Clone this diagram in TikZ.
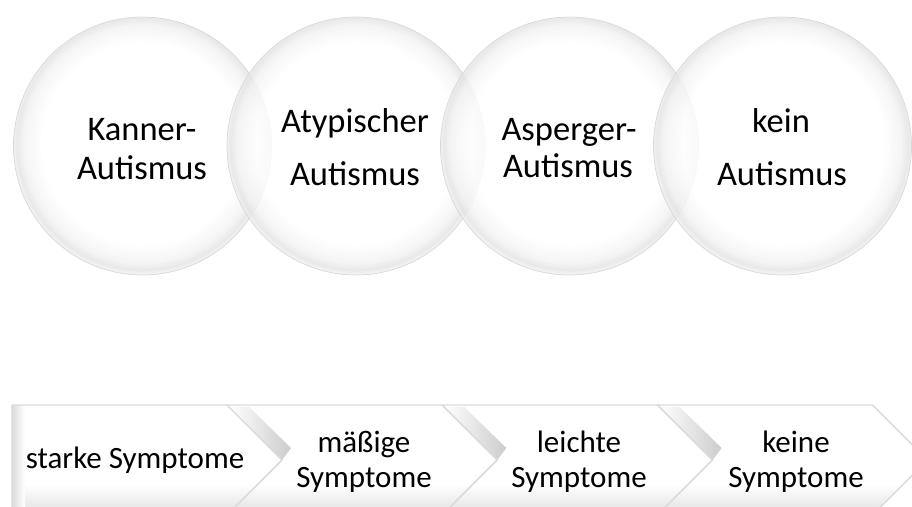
\documentclass[tikz,border=0pt]{standalone}
\usepackage{fontspec}
\setmainfont{Carlito}
\pgfdeclareradialshading{glassball}{\pgfpoint{0bp}{0.8bp}}{%
  color(0bp)=(white); color(19.5bp)=(white); color(23bp)=(black!5);
  color(24.4bp)=(black!11); color(25bp)=(black!7); color(50bp)=(black!7)}
\begin{document}
\begin{tikzpicture}[x=1pt,y=-1pt,
  glass/.style={shading=glassball, fill opacity=0.8},
  glassrim/.style={draw=black!18, line width=0.7pt, draw opacity=0.8},
  ctext/.style={font=\fontsize{34.5}{40}\selectfont, anchor=base, inner sep=0pt},
  stext/.style={font=\fontsize{31}{35}\selectfont, anchor=base, inner sep=0pt},
  chevline/.style={draw=black!14, line width=1.4pt, line join=miter},
  bottomband/.style={top color=white, bottom color=black!12},
  notchbevel/.style={left color=white, right color=black!20}]
\useasboundingbox (0,0) rectangle (912,506);
\clip (0,0) rectangle (912,506);

% glass circles, each one laid over the previous
\foreach \cx in {142.5,356,569.5,782.5}{
  \shade[glass] (\cx,146) circle[radius=129];
  \draw[glassrim] (\cx,146) circle[radius=129];
}

\node[ctext] (k1) at (142,140) {Kanner-};
\node[ctext] (k2) at (142,179) {Autismus};
\node[ctext] (a1) at (355,132) {Atypischer};
\node[ctext] (a2) at (355,185) {Autismus};
\node[ctext] (p1) at (569,140) {Asperger-};
\node[ctext] (p2) at (568,177) {Autismus};
\node[ctext] (n1) at (781,132) {kein};
\node[ctext] (n2) at (782,185) {Autismus};

% first step: flat left end
\begin{scope}
  \clip (12,405) -- (227,405) -- (282,460) -- (227,515) -- (12,515) -- cycle;
  \fill[white] (0,400) rectangle (300,520);
  \shade[bottomband] (0,484) rectangle (300,515);
  \shade[left color=black!14, right color=white] (12,405) rectangle (25,515);
\end{scope}
\draw[chevline] (12,405) -- (227,405) -- (282,460) -- (227,515) -- (12,515) -- cycle;

% following steps: notched chevrons
\foreach \x in {227,442.3,657.6}{
  \begin{scope}
    \clip (\x,405) -- (\x+215,405) -- (\x+270,460) -- (\x+215,515)
          -- (\x,515) -- (\x+55,460) -- cycle;
    \fill[white] (\x-10,400) rectangle (\x+280,520);
    \shade[bottomband] (\x-10,484) rectangle (\x+280,515);
    \shade[notchbevel] (\x+2,406) -- (\x+22,407) -- (\x+64,448) -- (\x+55,460) -- cycle;
  \end{scope}
  \draw[chevline] (\x,405) -- (\x+215,405) -- (\x+270,460) -- (\x+215,515)
        -- (\x,515) -- (\x+55,460) -- cycle;
}

\node[stext] (s1) at (135,468) {starke Symptome};
\node[stext] (m1) at (364,452) {mäßige};
\node[stext] (m2) at (364,487) {Symptome};
\node[stext] (l1) at (579,452) {leichte};
\node[stext] (l2) at (579,487) {Symptome};
\node[stext] (e1) at (796,452) {keine};
\node[stext] (e2) at (796,487) {Symptome};
\end{tikzpicture}
\end{document}
